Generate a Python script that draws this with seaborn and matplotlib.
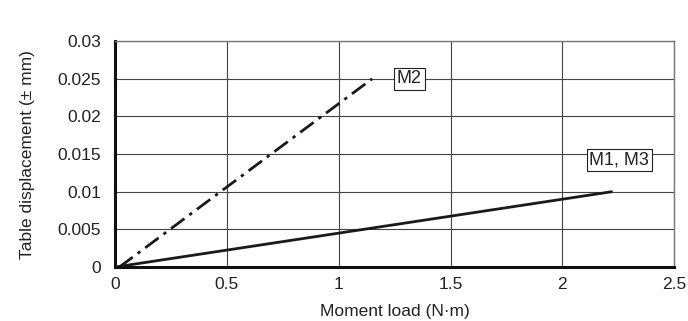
import matplotlib
matplotlib.use("Agg")
import matplotlib.pyplot as plt
import seaborn as sns
import pandas as pd

# Series
m2_load = [0.02, 1.15]
m2_disp = [0.0, 0.025]
m13_load = [0.0, 2.22]
m13_disp = [0.0, 0.01]

x_ticks = [0, 0.5, 1, 1.5, 2, 2.5]
x_tick_labels = ["0", "0.5", "1", "1.5", "2", "2.5"]
y_ticks = [0, 0.005, 0.01, 0.015, 0.02, 0.025, 0.03]
y_tick_labels = ["0", "0.005", "0.01", "0.015", "0.02", "0.025", "0.03"]

sns.set_style("white")
plt.rcParams["font.family"] = ["Liberation Sans", "DejaVu Sans"]

fig = plt.figure(figsize=(6.88, 3.21), dpi=100)
ax = fig.add_axes([0.167, 0.168, 0.813, 0.704])

df_m2 = pd.DataFrame({"load": m2_load, "disp": m2_disp})
df_m13 = pd.DataFrame({"load": m13_load, "disp": m13_disp})

sns.lineplot(data=df_m2, x="load", y="disp", ax=ax, color="#1a1a1a",
             linewidth=2.0, linestyle=(0, (6, 2.2, 1.2, 2.2)))
sns.lineplot(data=df_m13, x="load", y="disp", ax=ax, color="#1a1a1a", linewidth=2.0)

ax.set_xlim(0, 2.5)
ax.set_ylim(0, 0.03)
ax.set_xticks(x_ticks)
ax.set_xticklabels(x_tick_labels)
ax.set_yticks(y_ticks)
ax.set_yticklabels(y_tick_labels)
ax.tick_params(axis="y", labelsize=12.5, colors="#222222", length=0, pad=10)
ax.tick_params(axis="x", labelsize=12.5, colors="#222222", length=0, pad=7)
ax.grid(True, color="#444444", linewidth=0.8)

for side in ["left", "bottom"]:
    ax.spines[side].set_linewidth(2.2)
    ax.spines[side].set_color("#111111")
for side in ["top", "right"]:
    ax.spines[side].set_linewidth(1.0)
    ax.spines[side].set_color("#777777")

ax.set_xlabel("Moment load (N·m)", fontsize=12.5, color="#222222", labelpad=9)
ax.set_ylabel("Table displacement (± mm)", fontsize=12.5, color="#222222", labelpad=16)

box = dict(boxstyle="square,pad=0.15", facecolor="white", edgecolor="#222222", linewidth=0.8)
ax.text(1.26, 0.025, "M2", fontsize=13, va="center", ha="left", bbox=box, color="#222222")
ax.text(2.12, 0.0142, "M1, M3", fontsize=13, va="center", ha="left", bbox=box, color="#222222")

fig.savefig("out.png", dpi=100)
